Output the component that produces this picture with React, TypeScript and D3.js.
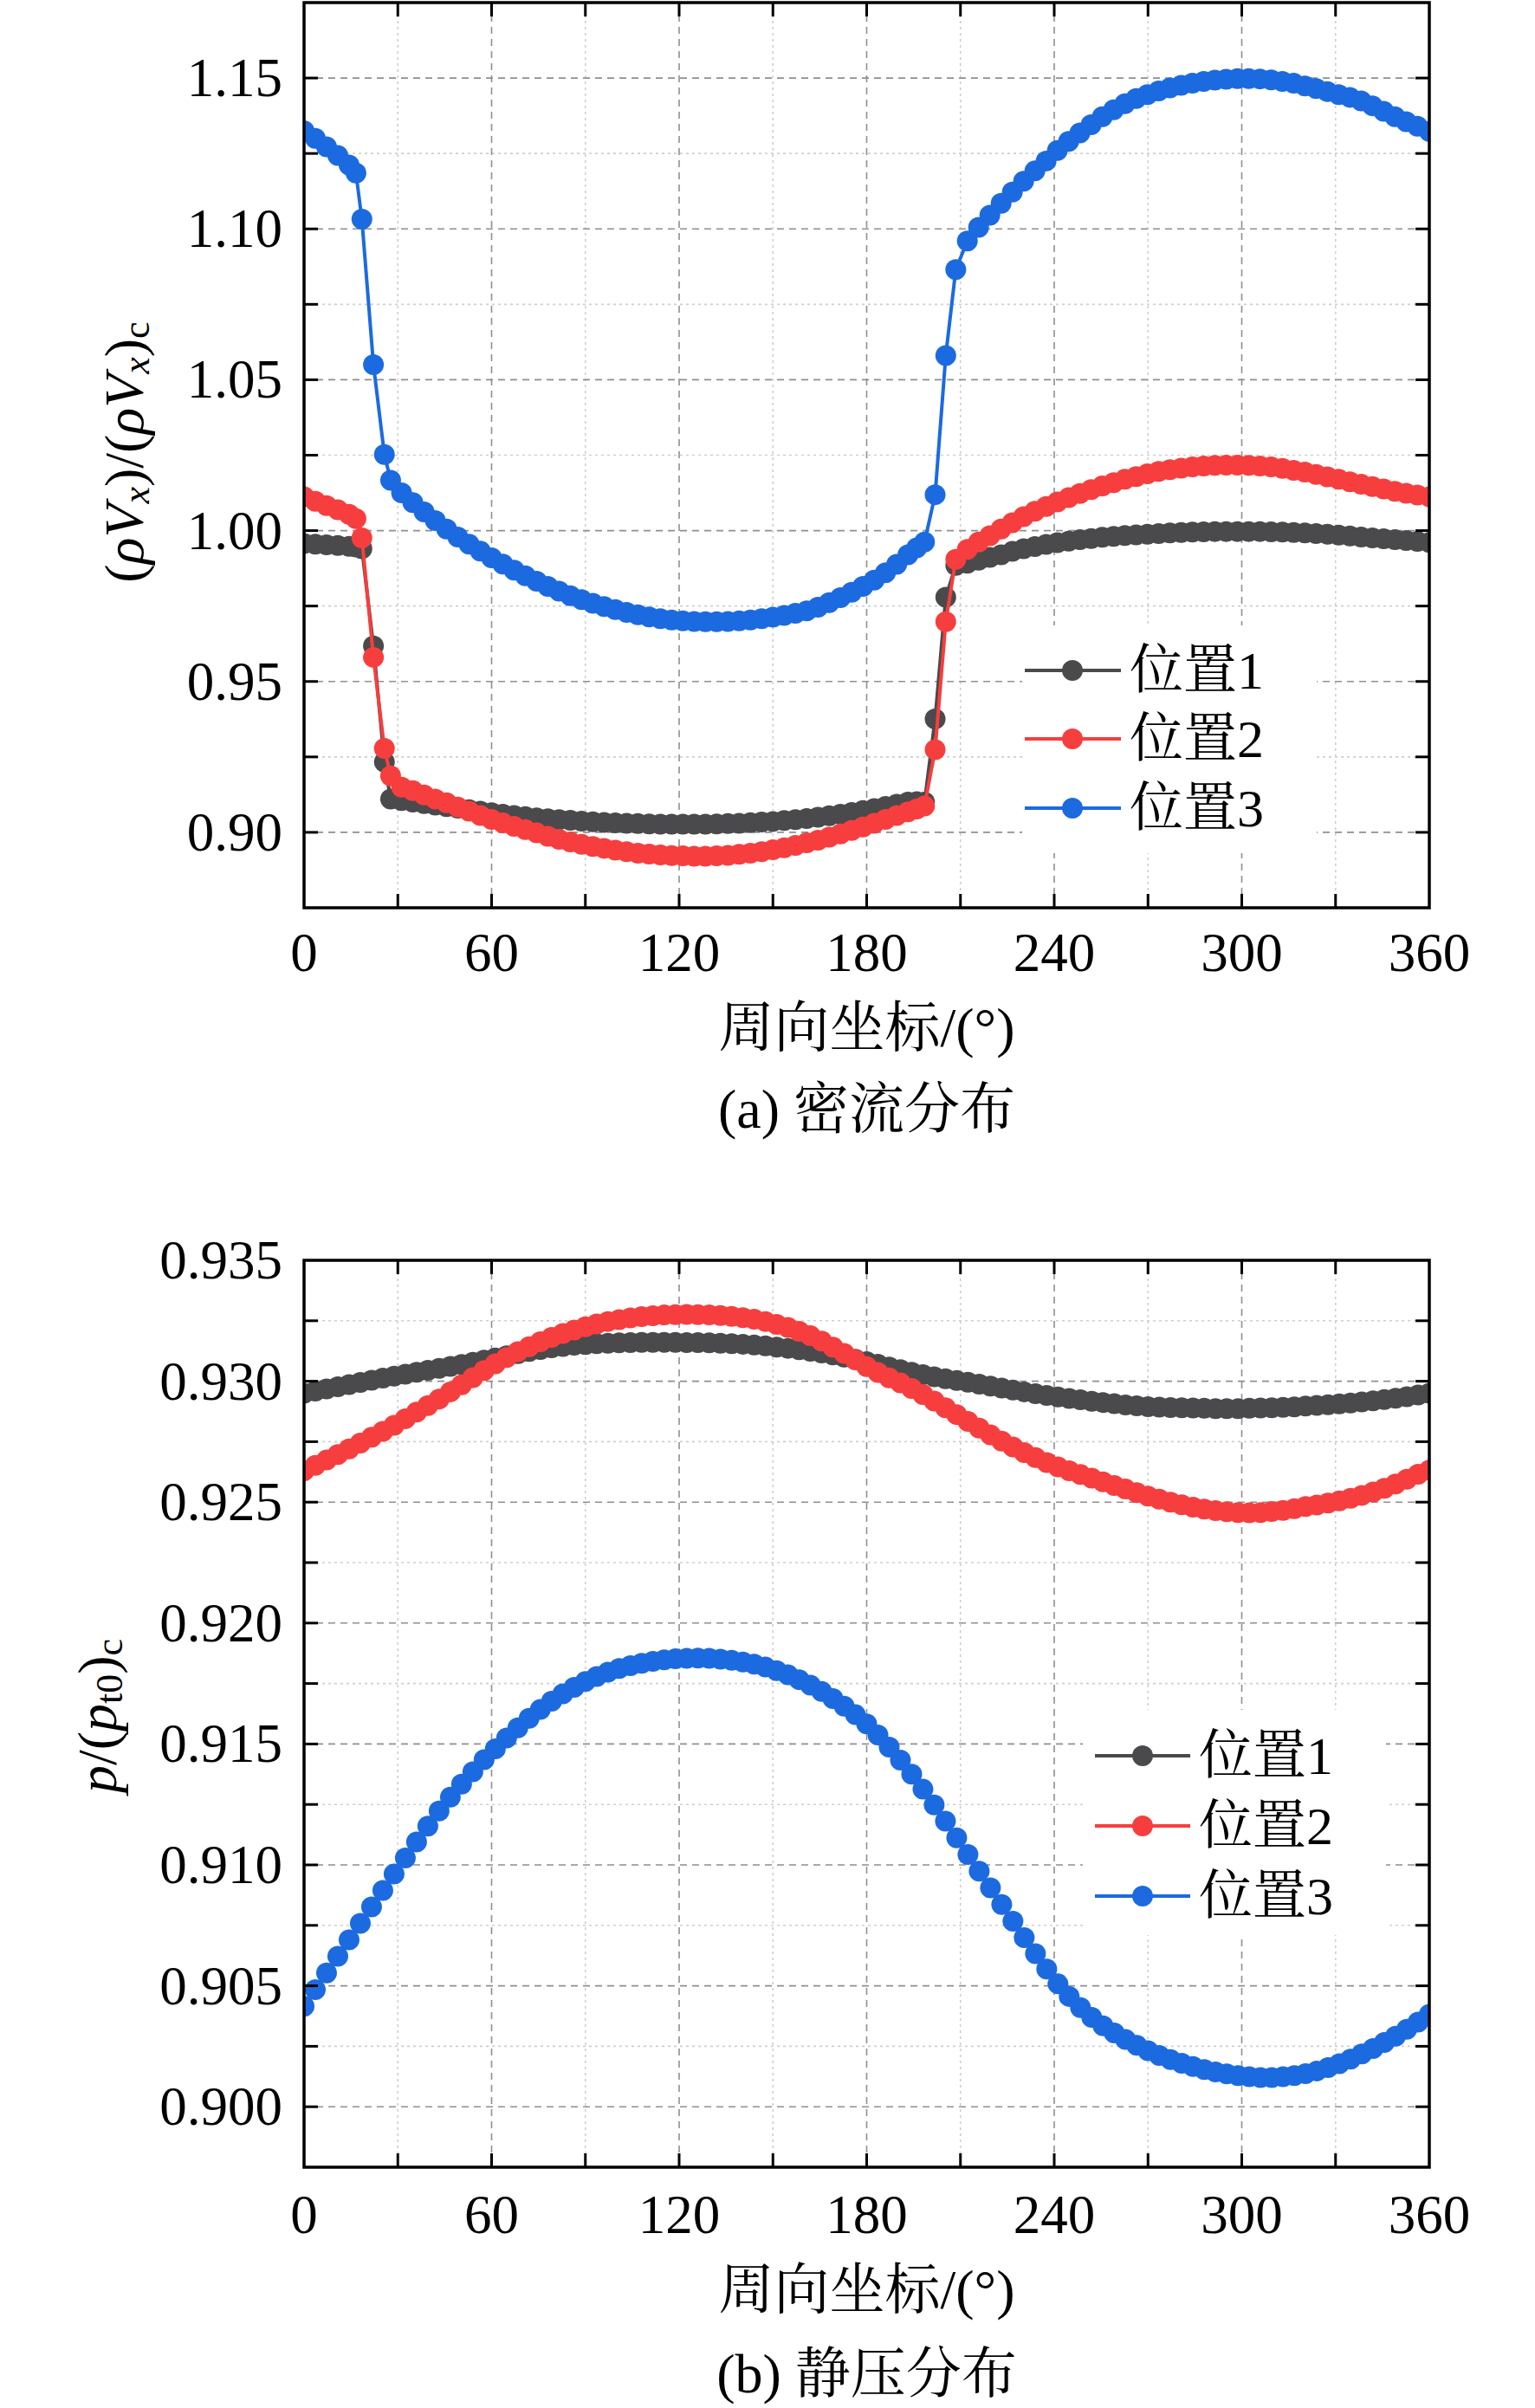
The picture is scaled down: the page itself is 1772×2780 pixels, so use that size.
import React from 'react';
import * as d3 from 'd3';

// ---------- Panel (a): mass-flow distribution ----------
const anglesA = [
  0, 3.6, 7.2, 10.8, 14.4, 16.6, 18.5, 22.2, 25.7, 27.7,
  31.2, 34.8, 38.4, 42.0, 45.6, 49.2, 52.8, 56.4, 60.0, 63.6,
  67.2, 70.8, 74.4, 78.0, 81.6, 85.2, 88.8, 92.4, 96.0, 99.6,
  103.2, 106.8, 110.4, 114.0, 117.6, 121.2, 124.8, 128.4, 132.0, 135.6,
  139.2, 142.8, 146.4, 150.0, 153.6, 157.2, 160.8, 164.4, 168.0, 171.6,
  175.2, 178.8, 182.4, 186.0, 189.6, 193.2, 196.0, 198.5, 201.9, 205.3,
  208.5, 212.2, 215.8, 219.4, 223.0, 226.6, 230.2, 233.8, 237.4, 241.0,
  244.6, 248.2, 251.8, 255.4, 259.0, 262.6, 266.2, 269.8, 273.4, 277.0,
  280.6, 284.2, 287.8, 291.4, 295.0, 298.6, 302.2, 305.8, 309.4, 313.0,
  316.6, 320.2, 323.8, 327.4, 331.0, 334.6, 338.2, 341.8, 345.4, 349.0,
  352.6, 356.2, 360.0,
];

const flowPos1 = [
  0.9957, 0.9955, 0.9953, 0.9951, 0.9948, 0.9946, 0.9940, 0.9618, 0.9233, 0.9110,
  0.9105, 0.9100, 0.9095, 0.9090, 0.9085, 0.9080, 0.9075, 0.9070, 0.9065, 0.9060,
  0.9056, 0.9052, 0.9048, 0.9045, 0.9042, 0.9040, 0.9037, 0.9035, 0.9033, 0.9031,
  0.9030, 0.9029, 0.9028, 0.9027, 0.9027, 0.9027, 0.9027, 0.9027, 0.9028, 0.9029,
  0.9030, 0.9032, 0.9034, 0.9036, 0.9039, 0.9042, 0.9046, 0.9050, 0.9055, 0.9060,
  0.9066, 0.9072, 0.9079, 0.9086, 0.9093, 0.9100, 0.9102, 0.9100, 0.9376, 0.9779,
  0.9885, 0.9892, 0.9902, 0.9911, 0.9920, 0.9931, 0.9940, 0.9947, 0.9954, 0.9960,
  0.9965, 0.9970, 0.9974, 0.9978, 0.9981, 0.9984, 0.9986, 0.9988, 0.9990, 0.9992,
  0.9994, 0.9995, 0.9996, 0.9997, 0.9997, 0.9997, 0.9997, 0.9997, 0.9996, 0.9995,
  0.9994, 0.9992, 0.9990, 0.9988, 0.9985, 0.9982, 0.9979, 0.9976, 0.9973, 0.9970,
  0.9967, 0.9964, 0.9961,
];

const flowPos2 = [
  1.0112, 1.0097, 1.0083, 1.0069, 1.0054, 1.0040, 0.9976, 0.9580, 0.9278, 0.9187,
  0.9150, 0.9138, 0.9124, 0.9110, 0.9098, 0.9084, 0.9070, 0.9056, 0.9043, 0.9031,
  0.9020, 0.9009, 0.8998, 0.8987, 0.8977, 0.8968, 0.8960, 0.8953, 0.8947, 0.8941,
  0.8936, 0.8931, 0.8928, 0.8925, 0.8923, 0.8922, 0.8921, 0.8921, 0.8922, 0.8924,
  0.8927, 0.8931, 0.8936, 0.8942, 0.8949, 0.8957, 0.8965, 0.8974, 0.8984, 0.8995,
  0.9006, 0.9018, 0.9030, 0.9043, 0.9056, 0.9068, 0.9077, 0.9087, 0.9274, 0.9698,
  0.9905, 0.9938, 0.9962, 0.9983, 1.0005, 1.0026, 1.0046, 1.0064, 1.0080, 1.0095,
  1.0109, 1.0123, 1.0136, 1.0148, 1.0159, 1.0170, 1.0179, 1.0188, 1.0196, 1.0202,
  1.0207, 1.0211, 1.0214, 1.0216, 1.0217, 1.0217, 1.0216, 1.0214, 1.0211, 1.0206,
  1.0200, 1.0194, 1.0186, 1.0178, 1.0170, 1.0162, 1.0154, 1.0146, 1.0138, 1.0130,
  1.0124, 1.0118, 1.0112,
];

const flowPos3 = [
  1.1325, 1.1300, 1.1272, 1.1243, 1.1212, 1.1185, 1.1032, 1.0550, 1.0252, 1.0167,
  1.0125, 1.0093, 1.0062, 1.0033, 1.0005, 0.9979, 0.9955, 0.9932, 0.9910, 0.9889,
  0.9869, 0.9850, 0.9832, 0.9815, 0.9799, 0.9784, 0.9771, 0.9759, 0.9748, 0.9738,
  0.9729, 0.9721, 0.9714, 0.9708, 0.9704, 0.9701, 0.9699, 0.9698, 0.9698, 0.9699,
  0.9701, 0.9704, 0.9708, 0.9713, 0.9719, 0.9726, 0.9734, 0.9746, 0.9761, 0.9778,
  0.9796, 0.9815, 0.9836, 0.9860, 0.9888, 0.9920, 0.9943, 0.9962, 1.0119, 1.0580,
  1.0865, 1.0960, 1.1005, 1.1045, 1.1085, 1.1122, 1.1158, 1.1192, 1.1225, 1.1260,
  1.1290, 1.1318, 1.1345, 1.1372, 1.1395, 1.1415, 1.1432, 1.1445, 1.1457, 1.1467,
  1.1476, 1.1483, 1.1489, 1.1493, 1.1496, 1.1498, 1.1498, 1.1497, 1.1494, 1.1489,
  1.1483, 1.1474, 1.1465, 1.1455, 1.1445, 1.1436, 1.1424, 1.1408, 1.1390, 1.1372,
  1.1355, 1.1340, 1.1323,
];

// ---------- Panel (b): static-pressure distribution ----------
const anglesB = [
  0, 3.6, 7.2, 10.8, 14.4, 18.0, 21.6, 25.2, 28.8, 32.4,
  36.0, 39.6, 43.2, 46.8, 50.4, 54.0, 57.6, 61.2, 64.8, 68.4,
  72.0, 75.6, 79.2, 82.8, 86.4, 90.0, 93.6, 97.2, 100.8, 104.4,
  108.0, 111.6, 115.2, 118.8, 122.4, 126.0, 129.6, 133.2, 136.8, 140.4,
  144.0, 147.6, 151.2, 154.8, 158.4, 162.0, 165.6, 169.2, 172.8, 176.4,
  180.0, 183.6, 187.2, 190.8, 194.4, 198.0, 201.6, 205.2, 208.8, 212.4,
  216.0, 219.6, 223.2, 226.8, 230.4, 234.0, 237.6, 241.2, 244.8, 248.4,
  252.0, 255.6, 259.2, 262.8, 266.4, 270.0, 273.6, 277.2, 280.8, 284.4,
  288.0, 291.6, 295.2, 298.8, 302.4, 306.0, 309.6, 313.2, 316.8, 320.4,
  324.0, 327.6, 331.2, 334.8, 338.4, 342.0, 345.6, 349.2, 352.8, 356.4,
  360.0,
];

const presPos1 = [
  0.92950, 0.92959, 0.92968, 0.92977, 0.92986, 0.92995, 0.93004, 0.93013, 0.93021, 0.93029,
  0.93037, 0.93045, 0.93053, 0.93061, 0.93069, 0.93078, 0.93087, 0.93096, 0.93105, 0.93114,
  0.93123, 0.93131, 0.93138, 0.93144, 0.93149, 0.93152, 0.93155, 0.93157, 0.93159, 0.93160,
  0.93161, 0.93161, 0.93161, 0.93161, 0.93160, 0.93160, 0.93159, 0.93157, 0.93155, 0.93153,
  0.93150, 0.93146, 0.93141, 0.93136, 0.93130, 0.93124, 0.93117, 0.93109, 0.93100, 0.93091,
  0.93081, 0.93070, 0.93059, 0.93048, 0.93037, 0.93027, 0.93018, 0.93010, 0.93003, 0.92996,
  0.92988, 0.92980, 0.92972, 0.92964, 0.92956, 0.92948, 0.92941, 0.92935, 0.92929, 0.92923,
  0.92917, 0.92912, 0.92907, 0.92902, 0.92898, 0.92895, 0.92893, 0.92891, 0.92890, 0.92889,
  0.92888, 0.92887, 0.92887, 0.92887, 0.92888, 0.92889, 0.92890, 0.92892, 0.92894, 0.92897,
  0.92900, 0.92903, 0.92906, 0.92910, 0.92914, 0.92919, 0.92924, 0.92930, 0.92936, 0.92943,
  0.92950,
];

const presPos2 = [
  0.92630, 0.92652, 0.92674, 0.92697, 0.92720, 0.92744, 0.92768, 0.92793, 0.92818, 0.92845,
  0.92872, 0.92899, 0.92926, 0.92956, 0.92985, 0.93015, 0.93044, 0.93072, 0.93098, 0.93122,
  0.93143, 0.93163, 0.93181, 0.93197, 0.93212, 0.93225, 0.93237, 0.93247, 0.93255, 0.93262,
  0.93267, 0.93271, 0.93274, 0.93275, 0.93276, 0.93275, 0.93274, 0.93272, 0.93268, 0.93263,
  0.93256, 0.93247, 0.93235, 0.93222, 0.93206, 0.93188, 0.93166, 0.93141, 0.93115, 0.93088,
  0.93060, 0.93036, 0.93014, 0.92993, 0.92970, 0.92945, 0.92918, 0.92890, 0.92862, 0.92834,
  0.92806, 0.92778, 0.92752, 0.92728, 0.92705, 0.92684, 0.92664, 0.92646, 0.92630, 0.92614,
  0.92599, 0.92584, 0.92569, 0.92554, 0.92539, 0.92525, 0.92512, 0.92500, 0.92489, 0.92479,
  0.92471, 0.92465, 0.92460, 0.92457, 0.92456, 0.92457, 0.92461, 0.92466, 0.92473, 0.92482,
  0.92488, 0.92496, 0.92505, 0.92516, 0.92528, 0.92542, 0.92557, 0.92575, 0.92595, 0.92615,
  0.92632,
];

const presPos3 = [
  0.90415, 0.90484, 0.90553, 0.90622, 0.90690, 0.90758, 0.90826, 0.90894, 0.90962, 0.91029,
  0.91095, 0.91160, 0.91223, 0.91280, 0.91334, 0.91385, 0.91435, 0.91480, 0.91525, 0.91567,
  0.91606, 0.91643, 0.91677, 0.91707, 0.91734, 0.91758, 0.91779, 0.91797, 0.91812, 0.91824,
  0.91834, 0.91842, 0.91848, 0.91852, 0.91854, 0.91855, 0.91854, 0.91851, 0.91846, 0.91839,
  0.91830, 0.91818, 0.91803, 0.91786, 0.91766, 0.91743, 0.91717, 0.91688, 0.91656, 0.91621,
  0.91583, 0.91537, 0.91487, 0.91433, 0.91375, 0.91313, 0.91248, 0.91181, 0.91112, 0.91043,
  0.90974, 0.90905, 0.90836, 0.90767, 0.90699, 0.90633, 0.90569, 0.90508, 0.90456, 0.90410,
  0.90370, 0.90335, 0.90305, 0.90278, 0.90254, 0.90232, 0.90212, 0.90195, 0.90180, 0.90166,
  0.90154, 0.90144, 0.90136, 0.90129, 0.90124, 0.90121, 0.90121, 0.90124, 0.90129, 0.90137,
  0.90148, 0.90162, 0.90178, 0.90197, 0.90218, 0.90241, 0.90266, 0.90292, 0.90320, 0.90350,
  0.90382,
];

// ---------- Axes / labels ----------
const xTicks = [0, 60, 120, 180, 240, 300, 360];
const xMinorTicks = [30, 90, 150, 210, 270, 330];
const yTicksA = [0.9, 0.95, 1.0, 1.05, 1.1, 1.15];
const yMinorA = [0.925, 0.975, 1.025, 1.075, 1.125];
const yTicksB = [0.9, 0.905, 0.91, 0.915, 0.92, 0.925, 0.93, 0.935];
const yMinorB = [0.9025, 0.9075, 0.9125, 0.9175, 0.9225, 0.9275, 0.9325];
const legendNames = ['位置1', '位置2', '位置3'];
const seriesColors = ['#4a4a4c', '#f73e3e', '#1c6ae0'];
const xTitle = '周向坐标/(°)';
const captionA = '(a) 密流分布';
const captionB = '(b) 静压分布';

const FONT = "'Liberation Serif', 'Times New Roman', 'Noto Serif CJK SC', 'Noto Sans CJK SC', serif";
const PLOT_L = 351;
const PLOT_R = 1650;
const MARKER_R = 12;

type PanelProps = {
  id: string;
  top: number;
  bottom: number;
  yDomain: [number, number];
  yTicks: number[];
  yMinor: number[];
  fmt: (v: number) => string;
  angles: number[];
  series: number[][];
  yTitle: React.ReactNode;
  yTitlePos: [number, number];
  tickLabelDy: number;
  xTitleY: number;
  captionY: number;
  caption: string;
  legend: { x1: number; x2: number; mx: number; tx: number; rows: number[]; box: [number, number, number, number] };
};

function Panel(p: PanelProps) {
  const x = d3.scaleLinear().domain([0, 360]).range([PLOT_L, PLOT_R]);
  const y = d3.scaleLinear().domain(p.yDomain).range([p.bottom, p.top]);
  const line = d3
    .line<[number, number]>()
    .x((d) => x(d[0]))
    .y((d) => y(d[1]));
  const inner = (v: number) => Math.abs(y(v) - p.top) > 1 && Math.abs(y(v) - p.bottom) > 1;
  const tickLen = 16;
  const [bx0, by0, bx1, by1] = p.legend.box;

  return (
    <g>
      <defs>
        <clipPath id={`clip-${p.id}`}>
          <rect x={PLOT_L} y={p.top} width={PLOT_R - PLOT_L} height={p.bottom - p.top} />
        </clipPath>
      </defs>
      {/* grid */}
      <g>
        {xMinorTicks.map((t) => (
          <line key={`gxm${t}`} x1={x(t)} x2={x(t)} y1={p.top} y2={p.bottom} stroke="#cfcfcf" strokeWidth={1.6} strokeDasharray="3 4" />
        ))}
        {p.yMinor.filter(inner).map((t) => (
          <line key={`gym${t}`} x1={PLOT_L} x2={PLOT_R} y1={y(t)} y2={y(t)} stroke="#cfcfcf" strokeWidth={1.6} strokeDasharray="3 4" />
        ))}
        {xTicks.filter((t) => t > 0 && t < 360).map((t) => (
          <line key={`gx${t}`} x1={x(t)} x2={x(t)} y1={p.top} y2={p.bottom} stroke="#8f8f8f" strokeWidth={1.6} strokeDasharray="8 6" />
        ))}
        {p.yTicks.filter(inner).map((t) => (
          <line key={`gy${t}`} x1={PLOT_L} x2={PLOT_R} y1={y(t)} y2={y(t)} stroke="#8f8f8f" strokeWidth={1.6} strokeDasharray="8 6" />
        ))}
      </g>
      {/* legend background */}
      <rect x={bx0} y={by0} width={bx1 - bx0} height={by1 - by0} fill="#fff" />
      {/* data */}
      <g clipPath={`url(#clip-${p.id})`}>
        {p.series.map((vals, si) => {
          const pts: [number, number][] = p.angles.map((a, i) => [a, vals[i]]);
          return (
            <g key={`s${si}`}>
              <path d={line(pts) || ''} fill="none" stroke={seriesColors[si]} strokeWidth={4} />
              {pts.map((d, i) => (
                <circle key={i} cx={x(d[0])} cy={y(d[1])} r={MARKER_R} fill={seriesColors[si]} />
              ))}
            </g>
          );
        })}
      </g>
      {/* frame */}
      <rect x={PLOT_L} y={p.top} width={PLOT_R - PLOT_L} height={p.bottom - p.top} fill="none" stroke="#000" strokeWidth={3.5} />
      {/* ticks */}
      <g stroke="#000" strokeWidth={3}>
        {[...xTicks, ...xMinorTicks].filter((t) => t > 0 && t < 360).map((t) => (
          <g key={`tx${t}`}>
            <line x1={x(t)} x2={x(t)} y1={p.bottom} y2={p.bottom - tickLen} />
            <line x1={x(t)} x2={x(t)} y1={p.top} y2={p.top + tickLen} />
          </g>
        ))}
        {[...p.yTicks, ...p.yMinor].filter(inner).map((t) => (
          <g key={`ty${t}`}>
            <line x1={PLOT_L} x2={PLOT_L + tickLen} y1={y(t)} y2={y(t)} />
            <line x1={PLOT_R} x2={PLOT_R - tickLen} y1={y(t)} y2={y(t)} />
          </g>
        ))}
      </g>
      {/* tick labels */}
      <g fontFamily={FONT} fontSize={63} fill="#000">
        {xTicks.map((t) => (
          <text key={`lx${t}`} x={x(t)} y={p.bottom + p.tickLabelDy} textAnchor="middle" dominantBaseline="central">
            {t}
          </text>
        ))}
        {p.yTicks.map((t) => (
          <text key={`ly${t}`} x={PLOT_L - 25} y={y(t)} textAnchor="end" dominantBaseline="central">
            {p.fmt(t)}
          </text>
        ))}
      </g>
      {/* titles */}
      <text
        transform={`translate(${p.yTitlePos[0]},${p.yTitlePos[1]}) rotate(-90)`}
        textAnchor="middle"
        dominantBaseline="central"
        fontFamily={FONT}
        fontSize={64}
      >
        {p.yTitle}
      </text>
      <text x={(PLOT_L + PLOT_R) / 2} y={p.xTitleY} textAnchor="middle" dominantBaseline="central" fontFamily={FONT} fontSize={64}>
        {xTitle}
      </text>
      <text x={(PLOT_L + PLOT_R) / 2} y={p.captionY} textAnchor="middle" dominantBaseline="central" fontFamily={FONT} fontSize={64}>
        {p.caption}
      </text>
      {/* legend */}
      <g>
        {legendNames.map((name, i) => (
          <g key={`lg${i}`}>
            <line x1={p.legend.x1} x2={p.legend.x2} y1={p.legend.rows[i]} y2={p.legend.rows[i]} stroke={seriesColors[i]} strokeWidth={4} />
            <circle cx={p.legend.mx} cy={p.legend.rows[i]} r={MARKER_R} fill={seriesColors[i]} />
            <text x={p.legend.tx} y={p.legend.rows[i]} dominantBaseline="central" fontFamily={FONT} fontSize={62}>
              {name}
            </text>
          </g>
        ))}
      </g>
    </g>
  );
}

const SUB = 44;
const SUB_DY = 14;

const yTitleA = (
  <>
    <tspan>(</tspan>
    <tspan fontStyle="italic">ρV</tspan>
    <tspan fontStyle="italic" fontSize={SUB} dy={SUB_DY}>x</tspan>
    <tspan dy={-SUB_DY}>)/(</tspan>
    <tspan fontStyle="italic">ρV</tspan>
    <tspan fontStyle="italic" fontSize={SUB} dy={SUB_DY}>x</tspan>
    <tspan dy={-SUB_DY}>)</tspan>
    <tspan fontSize={SUB} dy={SUB_DY}>c</tspan>
  </>
);

const yTitleB = (
  <>
    <tspan fontStyle="italic">p</tspan>
    <tspan>/(</tspan>
    <tspan fontStyle="italic">p</tspan>
    <tspan fontSize={SUB} dy={SUB_DY}>t0</tspan>
    <tspan dy={-SUB_DY}>)</tspan>
    <tspan fontSize={SUB} dy={SUB_DY}>c</tspan>
  </>
);

export default function App() {
  return (
    <svg
      width={1772}
      height={2780}
      viewBox="0 0 1772 2780"
      style={{ position: 'absolute', left: 0, top: 0, display: 'block', background: '#fff' }}
    >
      <rect x={0} y={0} width={1772} height={2780} fill="#fff" />
      <Panel
        id="a"
        top={3}
        bottom={1048}
        yDomain={[0.875, 1.175]}
        yTicks={yTicksA}
        yMinor={yMinorA}
        fmt={d3.format('.2f')}
        angles={anglesA}
        series={[flowPos1, flowPos2, flowPos3]}
        yTitle={yTitleA}
        yTitlePos={[143, 522]}
        tickLabelDy={52}
        xTitleY={1186}
        captionY={1280}
        caption={captionA}
        legend={{ x1: 1183, x2: 1294, mx: 1238, tx: 1304, rows: [774, 853, 933], box: [1180, 722, 1520, 985] }}
      />
      <Panel
        id="b"
        top={1455}
        bottom={2502}
        yDomain={[0.8975, 0.935]}
        yTicks={yTicksB}
        yMinor={yMinorB}
        fmt={d3.format('.3f')}
        angles={anglesB}
        series={[presPos1, presPos2, presPos3]}
        yTitle={yTitleB}
        yTitlePos={[112, 1981]}
        tickLabelDy={55}
        xTitleY={2643}
        captionY={2740}
        caption={captionB}
        legend={{ x1: 1264, x2: 1374, mx: 1319, tx: 1384, rows: [2027, 2108, 2189], box: [1250, 1974, 1600, 2234] }}
      />
    </svg>
  );
}
